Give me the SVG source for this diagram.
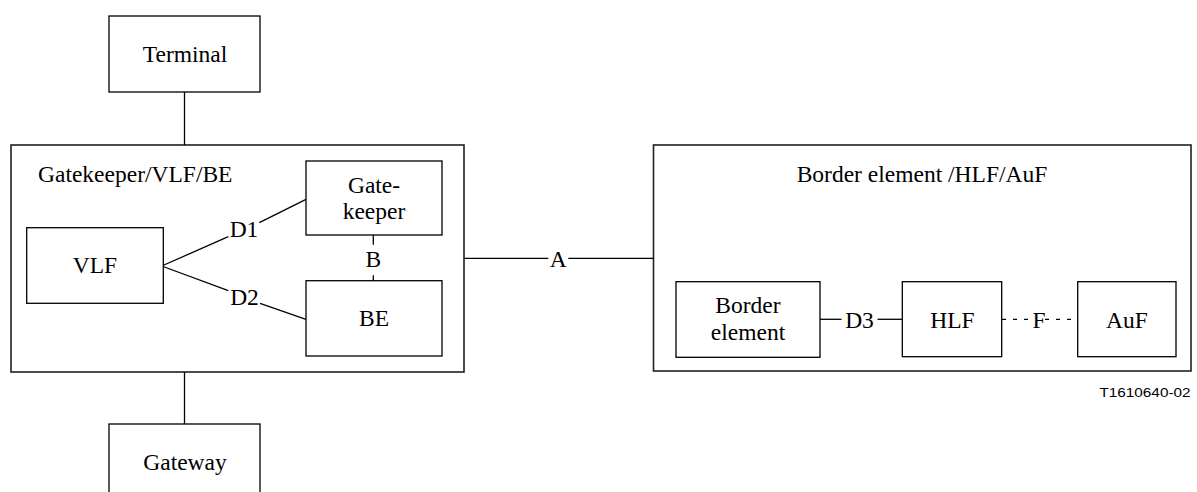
<svg xmlns="http://www.w3.org/2000/svg" width="1197" height="492" viewBox="0 0 1197 492">
  <style>
    .box { fill: #ffffff; stroke: #000000; stroke-width: 1.3; }
    .outer { fill: #ffffff; stroke: #202020; stroke-width: 1.6; }
    .wire { fill: none; stroke: #000000; stroke-width: 1.3; }
    .dash { fill: none; stroke: #000000; stroke-width: 1.3; stroke-dasharray: 4 7; }
    .lbl { font-family: "Liberation Serif", "Times New Roman", serif; font-size: 23.5px; fill: #000000; text-anchor: middle; }
    .title { font-family: "Liberation Serif", "Times New Roman", serif; font-size: 23.5px; fill: #000000; }
    .ref { font-family: "Liberation Sans", Arial, sans-serif; font-size: 12.5px; fill: #000000; text-anchor: end; }
  </style>

  <!-- outer containers -->
  <g id="gatekeeper-vlf-be">
    <rect class="outer" x="11" y="145" width="453" height="227"/>
    <text class="title" x="38" y="182">Gatekeeper/VLF/BE</text>
  </g>
  <g id="border-hlf-auf">
    <rect class="outer" x="653.5" y="145" width="537.5" height="226"/>
    <text class="lbl" x="922" y="182">Border element /HLF/AuF</text>
  </g>

  <!-- connectors -->
  <g id="connectors">
    <line class="wire" x1="184.5" y1="92" x2="184.5" y2="145"/>
    <line class="wire" x1="184.5" y1="372" x2="184.5" y2="424"/>
    <!-- D1 -->
    <line class="wire" x1="161.7" y1="266" x2="228.3" y2="236.7"/>
    <line class="wire" x1="259.3" y1="222.7" x2="306" y2="199.3"/>
    <text class="lbl" x="244" y="236.7">D1</text>
    <!-- D2 -->
    <line class="wire" x1="161.7" y1="266" x2="228.3" y2="290.7"/>
    <line class="wire" x1="260" y1="303.3" x2="306" y2="319.3"/>
    <text class="lbl" x="244.5" y="305">D2</text>
    <!-- B -->
    <line class="wire" x1="373.3" y1="235" x2="373.3" y2="244.7"/>
    <line class="wire" x1="373.3" y1="275.3" x2="373.3" y2="280.7"/>
    <text class="lbl" x="373.3" y="267">B</text>
    <!-- A -->
    <line class="wire" x1="464" y1="258.3" x2="548.3" y2="258.3"/>
    <line class="wire" x1="568.3" y1="258.3" x2="653.5" y2="258.3"/>
    <text class="lbl" x="558.3" y="267.3">A</text>
    <!-- D3 -->
    <line class="wire" x1="820" y1="319.3" x2="841.5" y2="319.3"/>
    <line class="wire" x1="877.5" y1="319.3" x2="902.3" y2="319.3"/>
    <text class="lbl" x="859.5" y="328">D3</text>
    <!-- F -->
    <line class="dash" x1="1002" y1="319.3" x2="1033" y2="319.3"/>
    <line class="dash" x1="1045" y1="319.3" x2="1077.7" y2="319.3"/>
    <text class="lbl" x="1039" y="328.3">F</text>
  </g>

  <!-- nodes -->
  <g id="terminal">
    <rect class="box" x="109" y="16" width="151" height="76"/>
    <text class="lbl" x="185" y="62.3">Terminal</text>
  </g>
  <g id="gateway">
    <rect class="box" x="109" y="424" width="151" height="90"/>
    <text class="lbl" x="185" y="470">Gateway</text>
  </g>
  <g id="vlf">
    <rect class="box" x="26.7" y="227.7" width="136.6" height="75.6"/>
    <text class="lbl" x="95" y="273.3">VLF</text>
  </g>
  <g id="gatekeeper">
    <rect class="box" x="306" y="161" width="136" height="74"/>
    <text class="lbl" x="374" y="193.3">Gate-</text>
    <text class="lbl" x="374" y="219.3">keeper</text>
  </g>
  <g id="be">
    <rect class="box" x="306" y="280.7" width="136" height="75.3"/>
    <text class="lbl" x="374" y="326">BE</text>
  </g>
  <g id="border-element">
    <rect class="box" x="676" y="281.7" width="144" height="75.6"/>
    <text class="lbl" x="748" y="313.3">Border</text>
    <text class="lbl" x="748" y="340">element</text>
  </g>
  <g id="hlf">
    <rect class="box" x="902.3" y="281.7" width="99.4" height="75"/>
    <text class="lbl" x="952.5" y="328.3">HLF</text>
  </g>
  <g id="auf">
    <rect class="box" x="1077.7" y="281.7" width="98.3" height="75"/>
    <text class="lbl" x="1127" y="328.3">AuF</text>
  </g>

  <text class="ref" x="1190.5" y="397.3" textLength="91" lengthAdjust="spacingAndGlyphs">T1610640-02</text>
</svg>
